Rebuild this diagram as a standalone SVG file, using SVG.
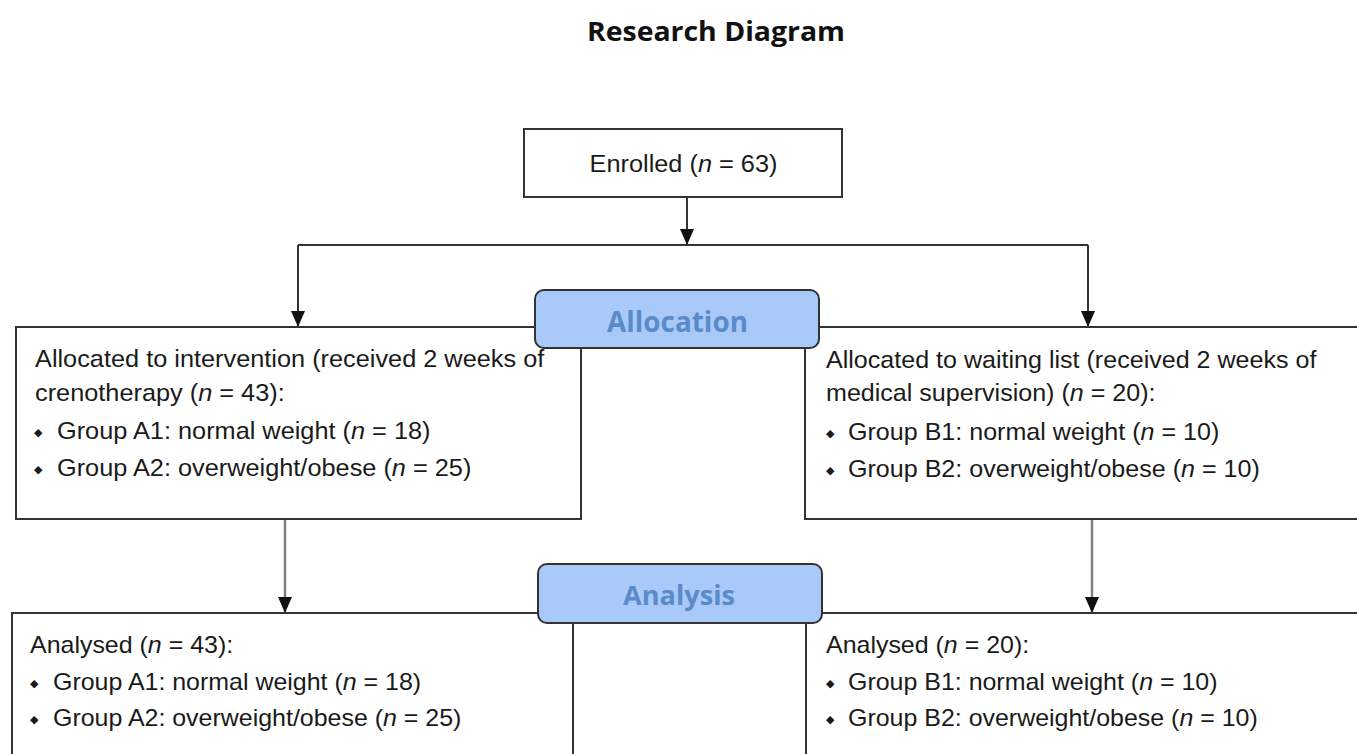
<svg xmlns="http://www.w3.org/2000/svg" width="1357" height="754" viewBox="0 0 1357 754">
<defs>
<style>
.box{fill:#ffffff;stroke:#333333;stroke-width:2}
.phase{fill:#a9c9f9;stroke:#333333;stroke-width:2}
.phase-t{font-family:"Open Sans","Liberation Sans",sans-serif;font-weight:bold;fill:#5a8bc9;text-anchor:middle}
.t{font-family:"Liberation Sans",Arial,sans-serif;font-size:24px;fill:#1a1a1a}
.b{font-family:"DejaVu Sans",sans-serif;font-size:11px;fill:#1a1a1a}
.i{font-style:italic}
.con{fill:none;stroke:#333333;stroke-width:2}
.con2{fill:none;stroke:#808080;stroke-width:2.5}
</style>
<marker id="ah" markerUnits="userSpaceOnUse" markerWidth="16" markerHeight="14" refX="16" refY="7" orient="auto">
<path d="M0,0 L16,7 L0,14 z" fill="#111111"/>
</marker>
</defs>
<rect width="1357" height="754" fill="#ffffff"/>

<g id="title">
<text x="716" y="41" font-family="'Open Sans','Liberation Sans',sans-serif" font-weight="bold" font-size="26" fill="#111111" text-anchor="middle" textLength="258" lengthAdjust="spacingAndGlyphs">Research Diagram</text>
</g>

<g id="connectors">
<path class="con" d="M687,197 L687,245" marker-end="url(#ah)"/>
<path class="con" d="M298,245 L1088,245"/>
<path class="con" d="M298,245 L298,327" marker-end="url(#ah)"/>
<path class="con" d="M1088,245 L1088,327" marker-end="url(#ah)"/>
<path class="con2" d="M285,520 L285,613" marker-end="url(#ah)"/>
<path class="con2" d="M1092,520 L1092,613" marker-end="url(#ah)"/>
</g>

<g id="enrolled">
<rect class="box" x="524" y="129" width="318" height="68"/>
<g transform="translate(683.5,0) scale(1.055,1)">
<text class="t" x="0" y="172" text-anchor="middle">Enrolled (<tspan class="i">n</tspan> = 63)</text>
</g>
</g>

<g id="allocated-intervention">
<rect class="box" x="16" y="327" width="565" height="192"/>
<g transform="translate(35,0) scale(1.055,1)">
<text class="t" x="0" y="367">Allocated to intervention (received 2 weeks of</text>
<text class="t" x="0" y="401">crenotherapy (<tspan class="i">n</tspan> = 43):</text>
</g>
<text class="b" x="34" y="436">◆</text>
<text class="b" x="34" y="473">◆</text>
<g transform="translate(57,0) scale(1.055,1)">
<text class="t" x="0" y="439">Group A1: normal weight (<tspan class="i">n</tspan> = 18)</text>
<text class="t" x="0" y="476">Group A2: overweight/obese (<tspan class="i">n</tspan> = 25)</text>
</g>
</g>

<g id="allocated-waiting">
<rect class="box" x="805" y="327" width="600" height="192"/>
<g transform="translate(826,0) scale(1.045,1)">
<text class="t" x="0" y="368">Allocated to waiting list (received 2 weeks of</text>
<text class="t" x="0" y="401">medical supervision) (<tspan class="i">n</tspan> = 20):</text>
</g>
<text class="b" x="826" y="437">◆</text>
<text class="b" x="826" y="474">◆</text>
<g transform="translate(848,0) scale(1.045,1)">
<text class="t" x="0" y="440">Group B1: normal weight (<tspan class="i">n</tspan> = 10)</text>
<text class="t" x="0" y="477">Group B2: overweight/obese (<tspan class="i">n</tspan> = 10)</text>
</g>
</g>

<g id="allocation">
<rect class="phase" x="535" y="290" width="284" height="58" rx="9"/>
<text class="phase-t" x="677.5" y="332" font-size="28" textLength="141" lengthAdjust="spacingAndGlyphs">Allocation</text>
</g>

<g id="analysed-a">
<rect class="box" x="12" y="613" width="561" height="200"/>
<g transform="translate(30,0) scale(1.04,1)">
<text class="t" x="0" y="653">Analysed (<tspan class="i">n</tspan> = 43):</text>
</g>
<text class="b" x="30" y="687">◆</text>
<text class="b" x="30" y="723">◆</text>
<g transform="translate(53,0) scale(1.04,1)">
<text class="t" x="0" y="690">Group A1: normal weight (<tspan class="i">n</tspan> = 18)</text>
<text class="t" x="0" y="726">Group A2: overweight/obese (<tspan class="i">n</tspan> = 25)</text>
</g>
</g>

<g id="analysed-b">
<rect class="box" x="806" y="613" width="600" height="200"/>
<g transform="translate(826,0) scale(1.04,1)">
<text class="t" x="0" y="653">Analysed (<tspan class="i">n</tspan> = 20):</text>
</g>
<text class="b" x="826" y="687">◆</text>
<text class="b" x="826" y="723">◆</text>
<g transform="translate(848,0) scale(1.04,1)">
<text class="t" x="0" y="690">Group B1: normal weight (<tspan class="i">n</tspan> = 10)</text>
<text class="t" x="0" y="726">Group B2: overweight/obese (<tspan class="i">n</tspan> = 10)</text>
</g>
</g>

<g id="analysis">
<rect class="phase" x="538" y="564" width="284" height="59" rx="9"/>
<text class="phase-t" x="679" y="605" font-size="26" textLength="112" lengthAdjust="spacingAndGlyphs">Analysis</text>
</g>
</svg>
